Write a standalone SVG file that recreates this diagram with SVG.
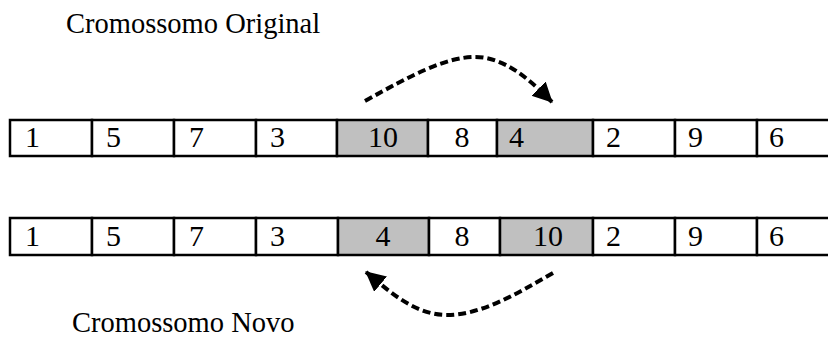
<svg xmlns="http://www.w3.org/2000/svg" width="828" height="338" viewBox="0 0 828 338">
<style>
.c{fill:#fff;stroke:#000;stroke-width:2.5}
.g{fill:#c0c0c0;stroke:#000;stroke-width:2.5}
.t{font-family:"Liberation Serif","Times New Roman",serif;font-size:30px;fill:#000}
.h{font-family:"Liberation Serif","Times New Roman",serif;font-size:28.5px;fill:#000}
.m{text-anchor:middle}
.a{fill:none;stroke:#000;stroke-width:4;stroke-dasharray:8 4}
</style>
<defs>
<marker id="ah" markerUnits="userSpaceOnUse" markerWidth="24" markerHeight="24" refX="19" refY="10" orient="auto">
<path d="M0,0 L20,10 L0,20 Z" fill="#000"/>
</marker>
</defs>
<rect width="828" height="338" fill="#fff"/>
<text class="h" x="66" y="33">Cromossomo Original</text>
<text class="h" x="72" y="332">Cromossomo Novo</text>
<g id="row1">
<g id="r1c1"><rect class="c" x="10" y="120" width="82" height="36"/><text class="t" x="25" y="147">1</text></g>
<g id="r1c2"><rect class="c" x="92" y="120" width="82" height="36"/><text class="t" x="106" y="147">5</text></g>
<g id="r1c3"><rect class="c" x="174" y="120" width="82" height="36"/><text class="t" x="189" y="147">7</text></g>
<g id="r1c4"><rect class="c" x="256" y="120" width="81" height="36"/><text class="t" x="270" y="147">3</text></g>
<g id="r1c5"><rect class="g" x="337" y="120" width="91" height="36"/><text class="t m" x="383" y="147">10</text></g>
<g id="r1c6"><rect class="c" x="428" y="120" width="69" height="36"/><text class="t m" x="462" y="147">8</text></g>
<g id="r1c7"><rect class="g" x="497" y="120" width="96" height="36"/><text class="t" x="509" y="147">4</text></g>
<g id="r1c8"><rect class="c" x="593" y="120" width="82" height="36"/><text class="t" x="606" y="147">2</text></g>
<g id="r1c9"><rect class="c" x="675" y="120" width="82" height="36"/><text class="t" x="688" y="147">9</text></g>
<g id="r1c10"><rect class="c" x="757" y="120" width="83" height="36"/><text class="t" x="769" y="147">6</text></g>
</g>
<g id="row2">
<g id="r2c1"><rect class="c" x="10" y="218" width="82" height="37"/><text class="t" x="25" y="246">1</text></g>
<g id="r2c2"><rect class="c" x="92" y="218" width="82" height="37"/><text class="t" x="106" y="246">5</text></g>
<g id="r2c3"><rect class="c" x="174" y="218" width="82" height="37"/><text class="t" x="189" y="246">7</text></g>
<g id="r2c4"><rect class="c" x="256" y="218" width="82" height="37"/><text class="t" x="270" y="246">3</text></g>
<g id="r2c5"><rect class="g" x="338" y="218" width="91" height="37"/><text class="t m" x="383" y="246">4</text></g>
<g id="r2c6"><rect class="c" x="429" y="218" width="71" height="37"/><text class="t m" x="462" y="246">8</text></g>
<g id="r2c7"><rect class="g" x="500" y="218" width="93" height="37"/><text class="t m" x="548" y="246">10</text></g>
<g id="r2c8"><rect class="c" x="593" y="218" width="82" height="37"/><text class="t" x="606" y="246">2</text></g>
<g id="r2c9"><rect class="c" x="675" y="218" width="82" height="37"/><text class="t" x="688" y="246">9</text></g>
<g id="r2c10"><rect class="c" x="757" y="218" width="83" height="37"/><text class="t" x="769" y="246">6</text></g>
</g>
<g id="connectors">
<path class="a" d="M365,101 C410,76 445,57 475,57 C505,57 530,80 552,102" marker-end="url(#ah)"/>
<path class="a" d="M553,273 C515,295 480,315 447,315 C415,315 390,292 366,272" marker-end="url(#ah)"/>
</g>
</svg>
